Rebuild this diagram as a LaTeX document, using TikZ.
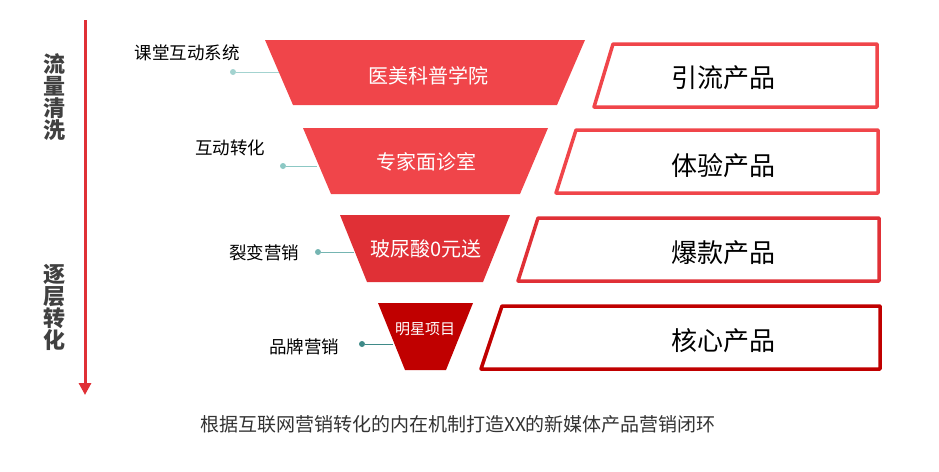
\documentclass[tikz,border=0pt]{standalone}
\usepackage{fontspec}
\setmainfont{Noto Sans CJK SC}
\usetikzlibrary{arrows.meta}
\definecolor{rA}{HTML}{F0454A}
\definecolor{rB}{HTML}{E03036}
\definecolor{rC}{HTML}{C00000}
\definecolor{tl}{HTML}{8CC8C4}
\definecolor{td}{HTML}{3F8A88}
\tikzset{
  lab/.style={font=\fontsize{17.5}{17.5}\selectfont, text=black, inner sep=0},
  intxt/.style={font=\fontsize{20}{20}\selectfont, text=white, inner sep=0},
  prod/.style={font=\fontsize{26}{26}\selectfont, text=black, inner sep=0},
  side/.style={font=\fontsize{22}{22}\selectfont\bfseries, text=black!75, align=center, inner sep=0},
  pbox/.style={line width=3.5pt, line join=round, fill=white},
  dot/.style={circle, inner sep=0, minimum size=6pt},
}
\begin{document}
\begin{tikzpicture}[x=1pt,y=-1pt]
\useasboundingbox (0,0) rectangle (939,471);
% funnel
\fill[rA] (265,40) -- (585,40) -- (557,105) -- (293,105) -- cycle;
\fill[rA] (303,128) -- (548,128) -- (520,194) -- (331,194) -- cycle;
\fill[rB] (340,215) -- (510,215) -- (483,282) -- (367,282) -- cycle;
\fill[rC] (378,303) -- (473,303) -- (446,370) -- (405,370) -- cycle;
\node[intxt] (t1) at (428,76) {医美科普学院};
\node[intxt] (t2) at (426,162) {专家面诊室};
\node[intxt] (t3) at (426,249) {玻尿酸0元送};
\node[intxt,font=\fontsize{15}{15}\selectfont] (t4) at (425,329) {明星项目};
\coordinate (e1) at (279,72);
\coordinate (e2) at (317,166);
\coordinate (e3) at (354,252);
\coordinate (e4) at (393,344);
% product boxes
\draw[pbox,draw=rA] (613,44) -- (877,44) -- (877,107) -- (594,107) -- cycle;
\draw[pbox,draw=rA] (576,130) -- (878,130) -- (878,193) -- (556,193) -- cycle;
\draw[pbox,draw=rB] (538,218) -- (879,218) -- (879,281) -- (518,281) -- cycle;
\draw[pbox,draw=rC] (502,306) -- (880,306) -- (880,369) -- (481,369) -- cycle;
\node[prod] (p1) at (723,78) {引流产品};
\node[prod] (p2) at (723,166) {体验产品};
\node[prod] (p3) at (723,253) {爆款产品};
\node[prod] (p4) at (723,341) {核心产品};
% labels
\node[lab] (l1) at (187,53) {课堂互动系统};
\node[lab] (l2) at (230,148) {互动转化};
\node[lab] (l3) at (264,253) {裂变营销};
\node[lab] (l4) at (304,347) {品牌营销};
\node[dot,fill=tl!80] (d1) at (233,72) {};
\node[dot,fill=tl] (d2) at (283,166) {};
\node[dot,fill=tl!70!td] (d3) at (318,252) {};
\node[dot,fill=td] (d4) at (362,344) {};
\draw[tl!80,line width=1pt] (d1) -- (e1);
\draw[tl,line width=1pt] (d2) -- (e2);
\draw[tl!70!td,line width=1pt] (d3) -- (e3);
\draw[td,line width=1pt] (d4) -- (e4);
% side arrow
\coordinate (as) at (85,20);
\coordinate (ae) at (85,395);
\draw[rB,line width=3pt,-{Triangle[length=12pt,width=12pt]}] (as) -- (ae);
\node[side] (s1) at (54,97) {流\\量\\清\\洗};
\node[side] (s2) at (54,307) {逐\\层\\转\\化};
% caption
\node[font=\fontsize{19}{19}\selectfont, text=black!80, inner sep=0] (cap) at (458,424) {根据互联网营销转化的内在机制打造XX的新媒体产品营销闭环};
\end{tikzpicture}
\end{document}
